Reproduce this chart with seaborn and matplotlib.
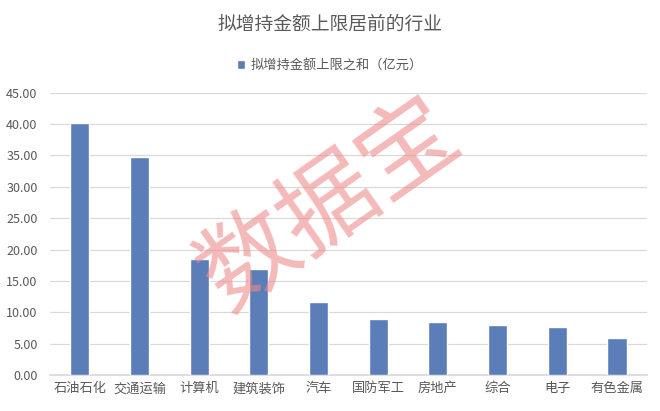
import matplotlib
matplotlib.use("Agg")
import matplotlib.pyplot as plt
import seaborn as sns
import pandas as pd
from matplotlib.patches import Patch

categories = ["石油石化", "交通运输", "计算机", "建筑装饰", "汽车", "国防军工", "房地产", "综合", "电子", "有色金属"]
values = [40.1, 34.7, 18.5, 17.0, 11.7, 9.0, 8.5, 8.0, 7.75, 6.0]
yticks = [0, 5, 10, 15, 20, 25, 30, 35, 40, 45]
title = "拟增持金额上限居前的行业"
series_name = "拟增持金额上限之和（亿元）"

sns.set_theme(style="white")
plt.rcParams['font.family'] = ['Noto Sans CJK SC', 'DejaVu Sans']

bar_color = "#5B7DB8"
text_color = "#595959"

df = pd.DataFrame({"cat": categories, "val": values})

fig = plt.figure(figsize=(6.6, 4.11), dpi=100)
ax = fig.add_axes([0.0758, 0.0869, 0.9042, 0.6876])
sns.barplot(data=df, x="cat", y="val", color=bar_color, width=0.32, saturation=1, ax=ax, zorder=3)

ax.set_ylim(0, 45)
ax.set_yticks(yticks)
ax.set_yticklabels([f"{v:.2f}" for v in yticks])
ax.set_xlim(-0.5, len(categories) - 0.5)
ax.set_xlabel("")
ax.set_ylabel("")
ax.grid(axis="y", color="#D9D9D9", linewidth=0.9, zorder=0)
for s in ["top", "right", "left"]:
    ax.spines[s].set_visible(False)
ax.spines["bottom"].set_color("#D9D9D9")
ax.tick_params(axis="both", length=0, colors=text_color, labelsize=9.5)
ax.tick_params(axis="y", pad=9, labelsize=9)
ax.tick_params(axis="x", pad=5)

fig.text(0.5, 0.94, title, ha="center", va="center", fontsize=13.5, color=text_color)
fig.legend(handles=[Patch(facecolor=bar_color, label=series_name)], loc="center",
           bbox_to_anchor=(0.5, 0.84), frameon=False, fontsize=9.5, handlelength=0.6,
           handleheight=0.6, handletextpad=0.4, labelcolor=text_color)

fig.text(0.5, 0.50, "数据宝", ha="center", va="center", fontsize=70, color="#EE8A8A",
         alpha=0.6, rotation=35, zorder=10)

fig.savefig("out.png", dpi=100)
